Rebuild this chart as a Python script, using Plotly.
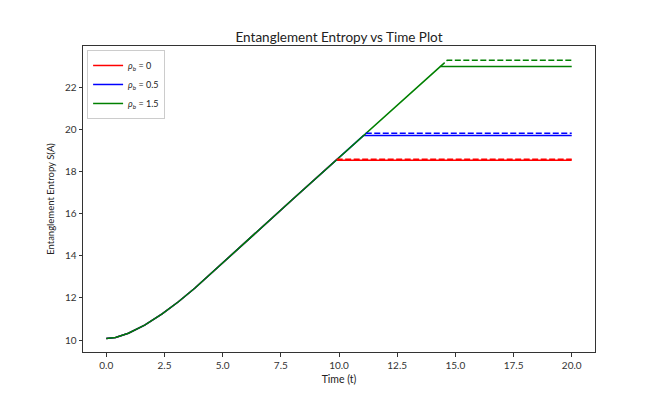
import plotly.graph_objects as go

# Shared rising part of the entropy curve
t_rise = [0.0, 0.4, 0.95, 1.65, 2.4, 3.1, 3.8, 4.5, 6.0, 8.0]
s_rise = [10.07, 10.12, 10.32, 10.71, 11.24, 11.82, 12.46, 13.17, 14.68, 16.68]

t_end = 20.0

# Saturation (solid) per rho_b
labels = ["<i>ρ<sub>b</sub></i> = 0", "<i>ρ<sub>b</sub></i> = 0.5", "<i>ρ<sub>b</sub></i> = 1.5"]
colors = ["#ff0000", "#0000ff", "#008000"]
t_sat = [9.87, 11.05, 14.35]
s_sat = [18.55, 19.72, 23.0]

# Theoretical saturation (dashed)
t_sat_theory = [9.9, 11.15, 14.65]
s_sat_theory = [18.6, 19.83, 23.3]

fig = go.Figure()

for lab, col, ts, ss in zip(labels, colors, t_sat, s_sat):
    xs = t_rise + [ts, t_end]
    ys = s_rise + [ss, ss]
    fig.add_trace(go.Scatter(x=xs, y=ys, mode="lines", name=lab,
                             line=dict(color=col, width=1.5)))

for i, (col, ts, ss) in enumerate(zip(colors, t_sat_theory, s_sat_theory)):
    if i == 2:
        xs = [t_sat[i], ts, t_end]
        ys = [s_sat[i], ss, ss]
    else:
        xs = [ts, t_end]
        ys = [ss, ss]
    fig.add_trace(go.Scatter(x=xs, y=ys, mode="lines", showlegend=False,
                             line=dict(color=col, width=1.5, dash="6px,2.5px")))

font_family = "Lato, 'DejaVu Sans', sans-serif"
axis_common = dict(showline=True, mirror=True, linecolor="#333333", linewidth=1,
                   ticks="outside", ticklen=3.5, tickwidth=0.8, tickcolor="#333333",
                   showgrid=False, zeroline=False,
                   tickfont=dict(size=10, color="#333333", family=font_family))

# page body has an 8px offset; plot area targets x 83..595, y 46..352 in the window
fig.update_layout(
    width=660, height=396,
    margin=dict(l=75, r=73, t=38, b=52),
    paper_bgcolor="white", plot_bgcolor="white",
    font=dict(family=font_family, color="#222222"),
    title=dict(text="Entanglement Entropy vs Time Plot", x=331 / 660, xanchor="center",
               y=1 - 29 / 396, yanchor="middle", font=dict(size=13.5, color="#222222")),
    xaxis=dict(range=[-1, 21], tickmode="linear", tick0=0, dtick=2.5, tickformat=".1f",
               title=dict(text="Time (t)", font=dict(size=10.5), standoff=6), **axis_common),
    yaxis=dict(range=[9.43, 23.98], tickmode="linear", tick0=10, dtick=2,
               title=dict(text="Entanglement Entropy S(A)", font=dict(size=9.5), standoff=8),
               **axis_common),
    legend=dict(x=0.008, y=0.987, xanchor="left", yanchor="top",
                bgcolor="rgba(255,255,255,0.8)", bordercolor="#cccccc", borderwidth=1,
                font=dict(size=9, color="#222222"), itemwidth=30, tracegroupgap=0),
    showlegend=True,
)

fig.write_html("out.html")
